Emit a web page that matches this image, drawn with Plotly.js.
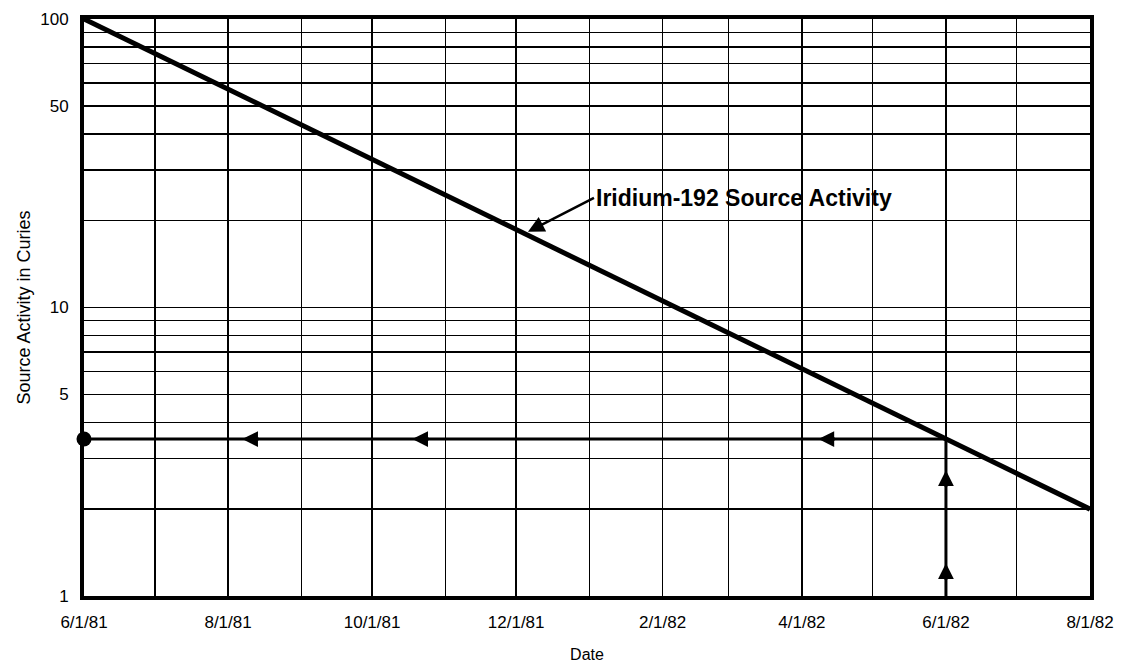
<!DOCTYPE html>
<html>
<head>
<meta charset="utf-8">
<script src="https://cdn.plot.ly/plotly-3.0.1.min.js"></script>
<style>
  html, body { margin: 0; padding: 0; background: #fff; }
  #chart { width: 1125px; height: 665px; }
</style>
</head>
<body>
<div id="chart"></div>
<script>
// ---- data ----
const decayDates = ['1981-06-01', '1982-08-01'];
const decayActivity = [100, 2.0];

const readingDate = '1982-06-01';
const readingActivity = 3.5;
const startDate = '1981-06-01';
const axisBottom = 1;

const leftArrowDates = ['1981-08-07', '1981-10-18', '1982-04-08'];
const upArrowActivity = [1.30, 2.73];

const monthTicks = ['1981-06-01','1981-07-01','1981-08-01','1981-09-01','1981-10-01','1981-11-01',
  '1981-12-01','1982-01-01','1982-02-01','1982-03-01','1982-04-01','1982-05-01','1982-06-01',
  '1982-07-01','1982-08-01'];
const monthLabels = ['6/1/81','','8/1/81','','10/1/81','','12/1/81','','2/1/82','','4/1/82','','6/1/82','','8/1/82'];

const yTicks = [1,2,3,4,5,6,7,8,9,10,20,30,40,50,60,70,80,90,100];
const yLabels = ['1','','','','5','','','','','10','','','','50','','','','','100'];

const labelText = 'Iridium-192 Source Activity';
const labelDate = '1981-12-06';
const labelActivity = 18.3;

// ---- traces ----
const traces = [
  { x: decayDates, y: decayActivity, mode: 'lines', type: 'scatter',
    line: { color: '#000', width: 5 }, hoverinfo: 'skip', showlegend: false },
  { x: [readingDate, startDate], y: [readingActivity, readingActivity], mode: 'lines', type: 'scatter',
    line: { color: '#000', width: 3 }, hoverinfo: 'skip', showlegend: false },
  { x: [readingDate, readingDate], y: [axisBottom, readingActivity], mode: 'lines', type: 'scatter',
    line: { color: '#000', width: 3 }, hoverinfo: 'skip', showlegend: false },
  { x: [startDate], y: [readingActivity], mode: 'markers', type: 'scatter', cliponaxis: false,
    marker: { color: '#000', size: 15 }, hoverinfo: 'skip', showlegend: false }
];

const logY = v => Math.log10(v);

const annotations = [];
leftArrowDates.forEach(d => annotations.push({
  x: d, y: logY(readingActivity), xref: 'x', yref: 'y', text: '', showarrow: true,
  ax: 18, ay: 0, arrowhead: 2, arrowwidth: 3, arrowsize: 1.05, arrowcolor: '#000'
}));
upArrowActivity.forEach(v => annotations.push({
  x: readingDate, y: logY(v), xref: 'x', yref: 'y', text: '', showarrow: true,
  ax: 0, ay: 18, arrowhead: 2, arrowwidth: 3, arrowsize: 1.05, arrowcolor: '#000'
}));
annotations.push({
  x: labelDate, y: logY(labelActivity), xref: 'x', yref: 'y',
  text: '<b>' + labelText + '</b>', showarrow: true,
  ax: 66, ay: -34, xanchor: 'left', yanchor: 'middle',
  arrowhead: 2, arrowwidth: 2.5, arrowsize: 1.3, arrowcolor: '#000',
  font: { family: 'Liberation Sans, Arial, sans-serif', size: 23, color: '#000' },
  bgcolor: 'rgba(255,255,255,0)'
});

const layout = {
  width: 1125, height: 665,
  margin: { l: 84, r: 35, t: 19, b: 69 },
  paper_bgcolor: '#fff', plot_bgcolor: '#fff',
  font: { family: 'Liberation Sans, Arial, sans-serif', color: '#000', size: 17 },
  showlegend: false,
  xaxis: {
    type: 'date',
    range: ['1981-06-01', '1982-08-01'],
    tickmode: 'array', tickvals: monthTicks, ticktext: monthLabels,
    ticks: '', showgrid: true, gridcolor: '#000', gridwidth: 1.4,
    showline: true, linecolor: '#000', linewidth: 4, mirror: true,
    zeroline: false,
    tickfont: { size: 17 },
    ticklabelstandoff: 8,
    title: { text: 'Date', font: { size: 16 }, standoff: 18 }
  },
  yaxis: {
    type: 'log',
    range: [0, 2],
    tickmode: 'array', tickvals: yTicks, ticktext: yLabels,
    ticks: '', showgrid: true, gridcolor: '#000', gridwidth: 1.4,
    showline: true, linecolor: '#000', linewidth: 4, mirror: true,
    zeroline: false,
    tickfont: { size: 17 },
    ticklabelstandoff: 8,
    title: { text: 'Source Activity in Curies', font: { size: 18 }, standoff: 6 }
  },
  annotations: annotations
};

Plotly.newPlot('chart', traces, layout, { displayModeBar: false, staticPlot: true });
</script>
</body>
</html>
